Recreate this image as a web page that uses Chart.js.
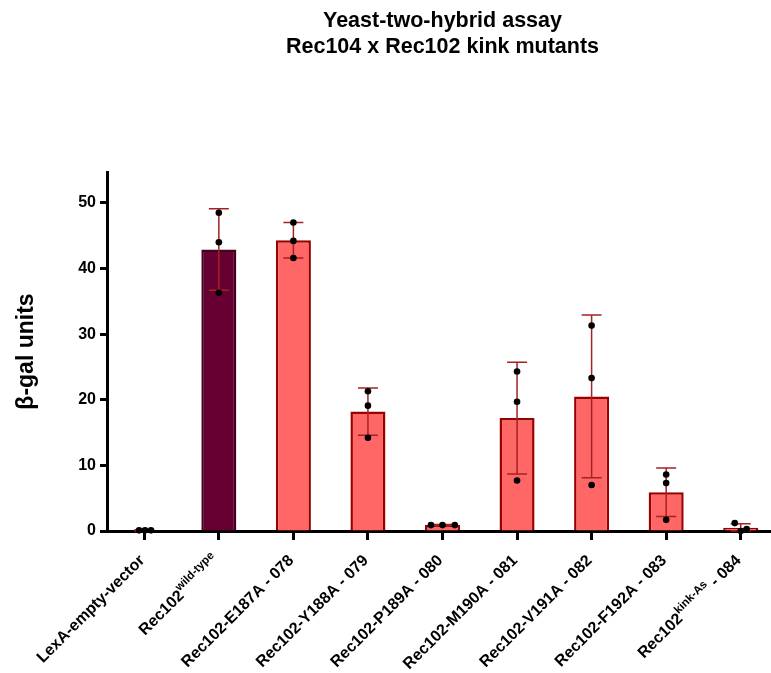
<!DOCTYPE html>
<html>
<head>
<meta charset="utf-8">
<title>Yeast-two-hybrid assay</title>
<script src="https://cdn.jsdelivr.net/npm/chart.js@4.4.1/dist/chart.umd.min.js"></script>
<style>
    html, body { margin: 0; padding: 0; background: #fff; overflow: hidden; }
    canvas { display: block; }
</style>
</head>
<body>
<canvas id="beta-gal-chart" width="782" height="673"></canvas>
<script>
// Category labels (main text, superscript part, trailing text)
const labelMain = ['LexA-empty-vector', 'Rec102', 'Rec102-E187A - 078', 'Rec102-Y188A - 079',
    'Rec102-P189A - 080', 'Rec102-M190A - 081', 'Rec102-V191A - 082', 'Rec102-F192A - 083', 'Rec102'];
const labelSup = ['', 'wild-type', '', '', '', '', '', '', 'kink-As'];
const labelTail = ['', '', '', '', '', '', '', '', ' - 084'];

// Mean beta-gal units and SD
const meanValues = [0.1, 42.9, 44.3, 18.2, 0.9, 17.2, 20.5, 5.9, 0.5];
const sdValues = [0.1, 6.2, 2.7, 3.6, 0.1, 8.5, 12.4, 3.7, 0.6];

// Individual replicates
const rep1 = [0.1, 48.5, 47.0, 21.3, 0.9, 24.3, 31.3, 8.6, 1.2];
const rep2 = [0.1, 44.0, 44.2, 19.1, 0.9, 19.7, 23.3, 7.3, 0.3];
const rep3 = [0.1, 36.3, 41.6, 14.2, 0.9, 7.7, 7.0, 1.7, 0.0];

// y axis ticks
const yTicks = [0, 10, 20, 30, 40, 50];

// horizontal spread of overlapping dots (in category widths)
const jitter = [
    [-0.07, 0, 0, 0, -0.155, 0, 0, 0, -0.08],
    [0.09, 0, 0, 0, 0, 0, 0, 0, 0.08],
    [0.01, 0, 0, 0, 0.165, 0, 0, 0, 0.0]
];

const barFill = meanValues.map((v, i) => i === 1 ? '#660033' : '#ff6666');
const barBorder = meanValues.map((v, i) => i === 1 ? '#45001f' : '#990000');

const pointData = [];
[rep1, rep2, rep3].forEach((rep, r) => {
    rep.forEach((v, i) => pointData.push({ x: i + jitter[r][i], y: v }));
});

const FONT = "'Liberation Sans', Arial, sans-serif";

// error bars (mean +/- SD) drawn right after the bars
const errorBarPlugin = {
    id: 'errorBars',
    afterDatasetDraw(chart, args) {
        if (args.index !== 0) return;
        const ctx = chart.ctx;
        const xs = chart.scales.x;
        const ys = chart.scales.y;
        ctx.save();
        ctx.strokeStyle = '#a32323';
        ctx.lineWidth = 1.5;
        meanValues.forEach((m, i) => {
            const x = xs.getPixelForValue(i);
            const yTop = ys.getPixelForValue(m + sdValues[i]);
            const yBot = ys.getPixelForValue(Math.max(0, m - sdValues[i]));
            ctx.beginPath();
            ctx.moveTo(x, yTop);
            ctx.lineTo(x, yBot);
            ctx.moveTo(x - 10, yTop);
            ctx.lineTo(x + 10, yTop);
            ctx.moveTo(x - 10, yBot);
            ctx.lineTo(x + 10, yBot);
            ctx.stroke();
        });
        ctx.restore();
    }
};

// two-line title centred over the plot area, and rotated x labels with superscripts
const textPlugin = {
    id: 'texts',
    afterDraw(chart) {
        const ctx = chart.ctx;
        const area = chart.chartArea;
        ctx.save();
        ctx.fillStyle = '#000';
        ctx.textAlign = 'center';
        ctx.textBaseline = 'middle';
        ctx.font = 'bold 21.5px ' + FONT;
        const cx = (area.left + area.right) / 2;
        ctx.fillText('Yeast-two-hybrid assay', cx, 21);
        ctx.fillText('Rec104 x Rec102 kink mutants', cx, 47);

        const xs = chart.scales.x;
        const mainFont = 'bold 16px ' + FONT;
        const supFont = 'bold 11.5px ' + FONT;
        labelMain.forEach((main, i) => {
            const x = xs.getPixelForValue(i);
            ctx.font = mainFont;
            const w1 = ctx.measureText(main).width;
            const w3 = ctx.measureText(labelTail[i]).width;
            ctx.font = supFont;
            const w2 = ctx.measureText(labelSup[i]).width;
            const total = w1 + w2 + w3;
            ctx.save();
            ctx.translate(x - 2, area.bottom + 27);
            ctx.rotate(-Math.PI / 4);
            ctx.textAlign = 'left';
            ctx.textBaseline = 'middle';
            ctx.font = mainFont;
            ctx.fillText(main, -total, 0);
            ctx.font = supFont;
            ctx.fillText(labelSup[i], -total + w1, -6);
            ctx.font = mainFont;
            ctx.fillText(labelTail[i], -total + w1 + w2, 0);
            ctx.restore();
        });
        ctx.restore();
    }
};

const ctx = document.getElementById('beta-gal-chart').getContext('2d');
const chart = new Chart(ctx, {
    type: 'bar',
    data: {
        labels: labelMain.map((m, i) => m + labelSup[i] + labelTail[i]),
        datasets: [{
            data: meanValues,
            backgroundColor: barFill,
            borderColor: barBorder,
            borderWidth: 2.5,
            barPercentage: 0.47,
            categoryPercentage: 1,
            grouped: false,
            order: 2
        }, {
            type: 'scatter',
            data: pointData,
            xAxisID: 'xs',
            yAxisID: 'y',
            pointRadius: 3.3,
            pointBackgroundColor: '#000',
            pointBorderWidth: 0,
            clip: false,
            order: 1
        }]
    },
    options: {
        responsive: false,
        animation: false,
        events: [],
        layout: { padding: { top: 172, left: 0, right: 0, bottom: 0 } },
        plugins: {
            legend: { display: false },
            tooltip: { enabled: false }
        },
        scales: {
            x: {
                offset: true,
                grid: {
                    offset: false,
                    drawOnChartArea: false,
                    tickLength: 9,
                    tickWidth: 3,
                    tickColor: '#000'
                },
                border: { color: '#000', width: 3 },
                ticks: { display: false },
                afterFit: (scale) => { scale.height = 142; }
            },
            xs: {
                type: 'linear',
                display: false,
                offset: false,
                min: -0.5,
                max: labelMain.length - 0.5
            },
            y: {
                min: 0,
                max: 54.7,
                grid: {
                    drawOnChartArea: false,
                    tickLength: 7,
                    tickWidth: 3,
                    tickColor: '#000'
                },
                border: { color: '#000', width: 3 },
                ticks: {
                    stepSize: 10,
                    includeBounds: false,
                    padding: 4,
                    color: '#000',
                    font: { family: FONT, size: 16, weight: 'bold' }
                },
                afterBuildTicks: (scale) => {
                    scale.ticks = yTicks.map(v => ({ value: v }));
                },
                title: {
                    display: true,
                    text: 'β-gal units',
                    color: '#000',
                    font: { family: FONT, size: 23, weight: 'bold' },
                    padding: { top: 13, bottom: 0 }
                },
                afterFit: (scale) => { scale.width = 107; }
            }
        }
    },
    plugins: [errorBarPlugin, textPlugin]
});
</script>
</body>
</html>
